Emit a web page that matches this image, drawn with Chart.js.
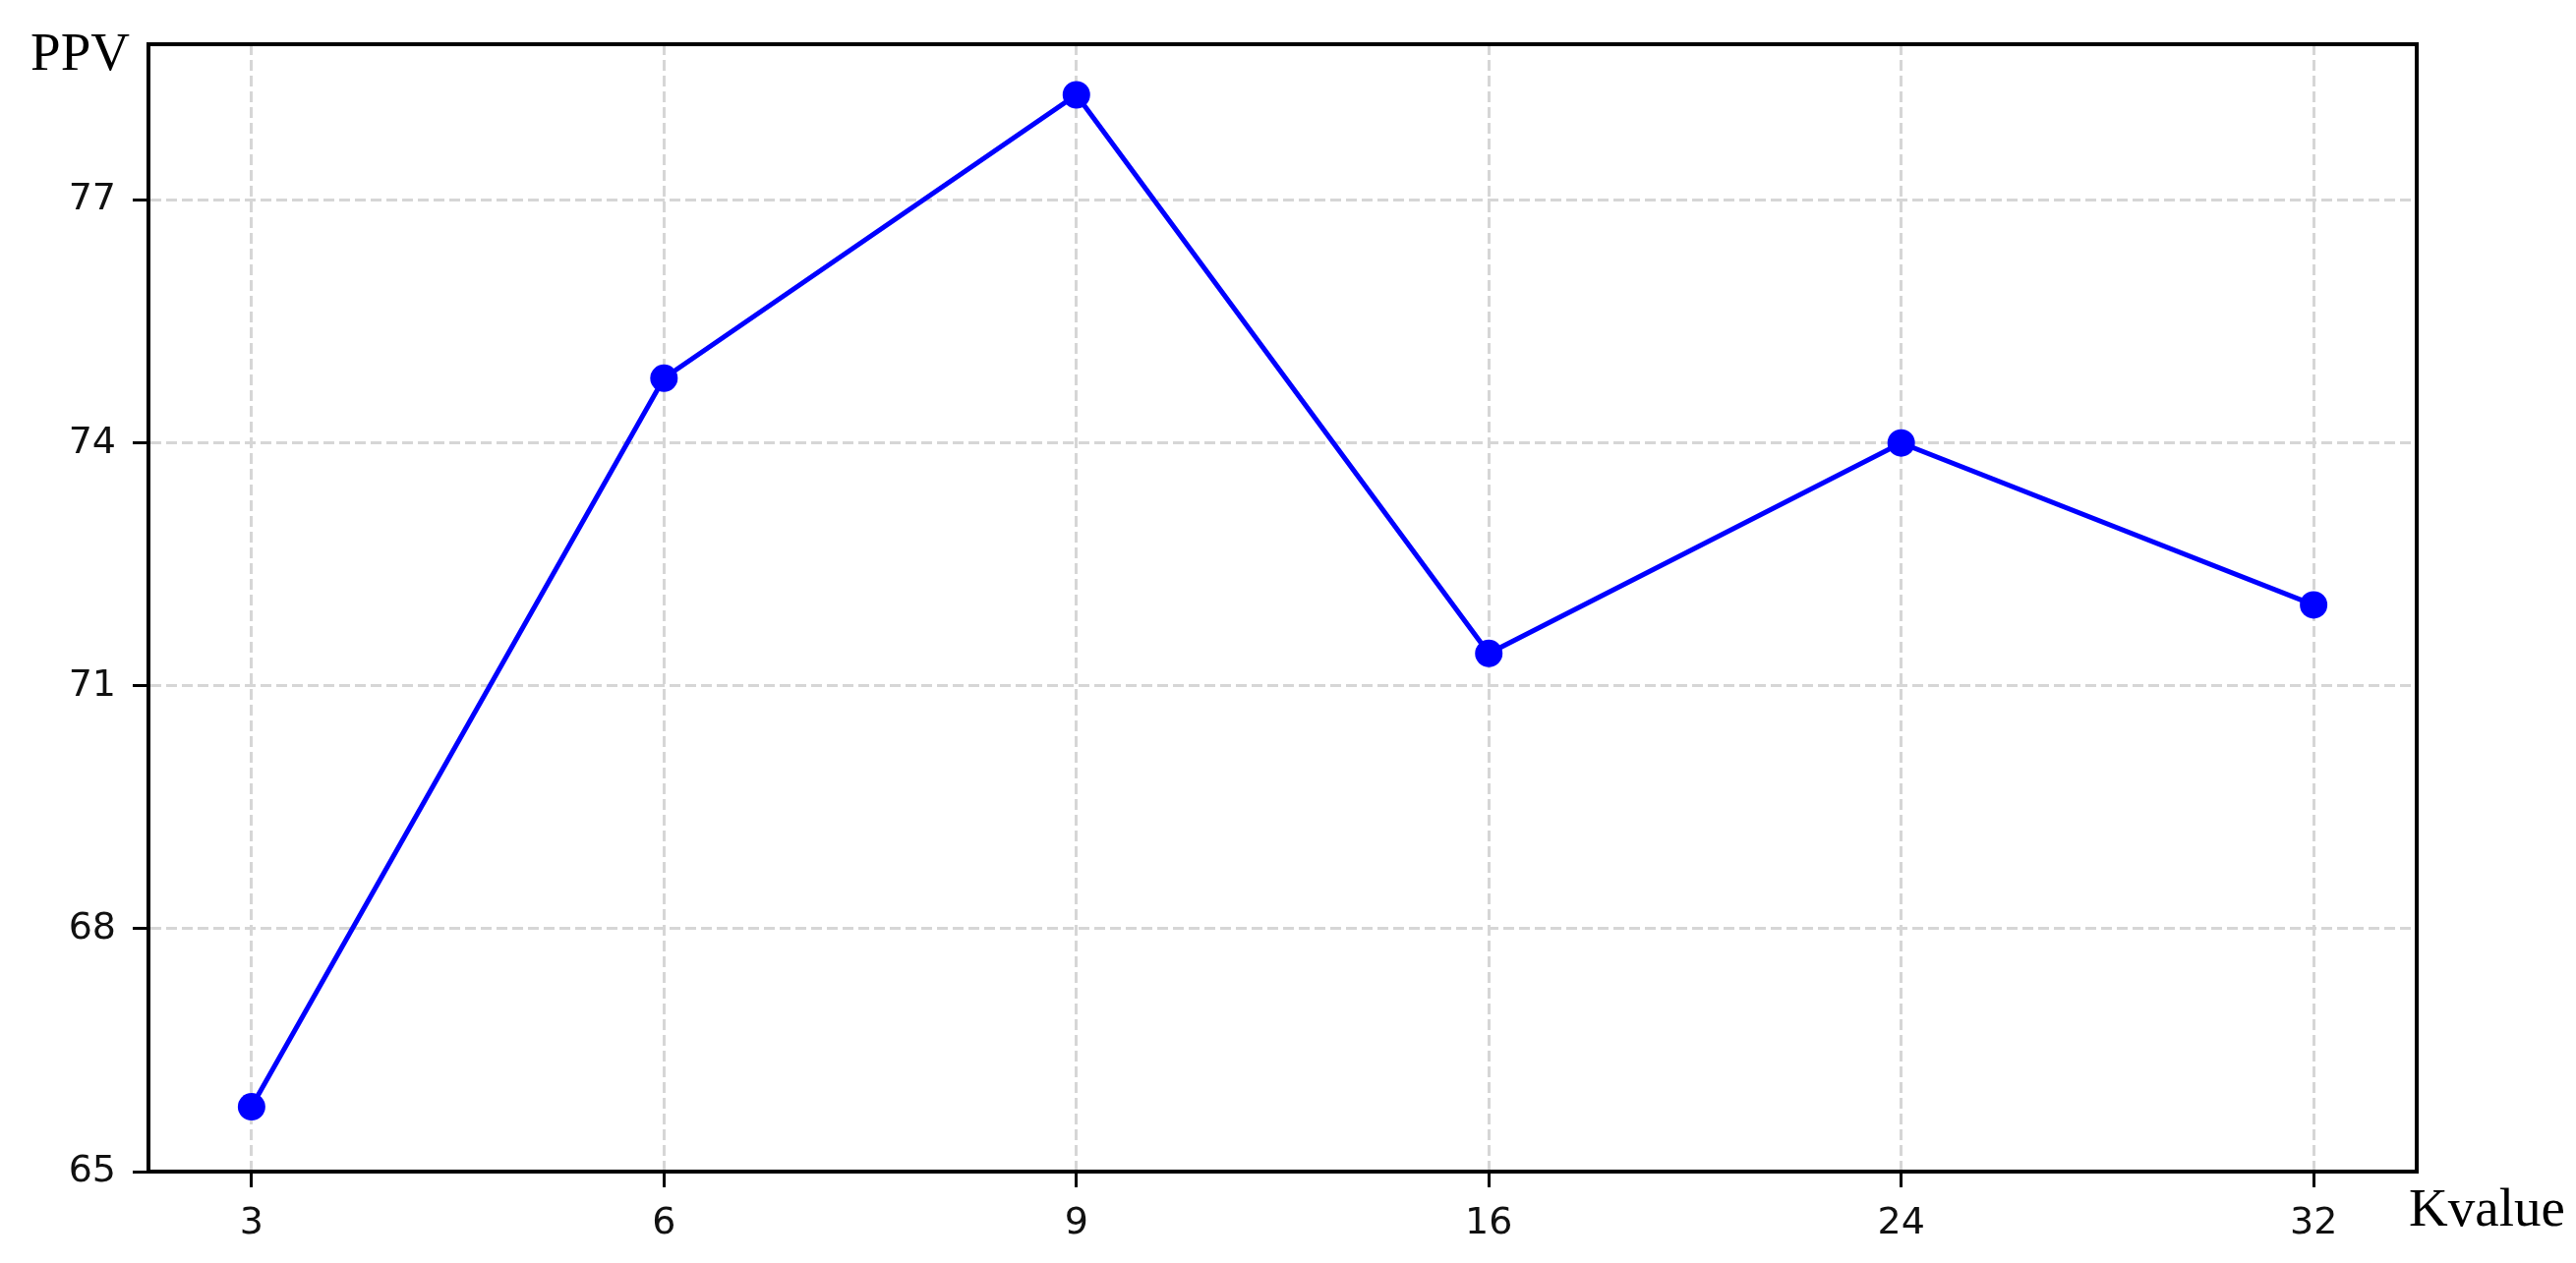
<!DOCTYPE html>
<html>
<head>
<meta charset="utf-8">
<script src="https://cdn.jsdelivr.net/npm/chart.js@4.4.1/dist/chart.umd.min.js"></script>
<style>
  html, body { margin: 0; padding: 0; background: #fff; }
  #wrap { width: 2620px; height: 1285px; }
</style>
</head>
<body>
<div id="wrap"><canvas id="chart" width="2620" height="1285"></canvas></div>
<script>
  const kValues = ['3', '6', '9', '16', '24', '32'];
  const ppv = [65.8, 74.8, 78.3, 71.4, 74.0, 72.0];
  const yTicks = [65, 68, 71, 74, 77];

  const tickFont = { family: "'DejaVu Sans', sans-serif", size: 38 };
  const titleFont = "55px 'Liberation Serif', 'Times New Roman', serif";

  // frame on all four sides + the two axis names placed like the original
  const framePlugin = {
    id: 'frame',
    afterDraw(chart) {
      const { ctx, chartArea: a } = chart;
      ctx.save();
      ctx.strokeStyle = '#000';
      ctx.lineWidth = 4;
      ctx.strokeRect(a.left, a.top, a.right - a.left, a.bottom - a.top);
      ctx.fillStyle = '#000';
      ctx.font = titleFont;
      ctx.textBaseline = 'alphabetic';
      ctx.textAlign = 'right';
      ctx.fillText('PPV', a.left - 19, a.top + 26);
      ctx.textAlign = 'left';
      ctx.fillText('Kvalue', a.right - 8, a.bottom + 55);
      ctx.restore();
    }
  };

  new Chart(document.getElementById('chart'), {
    type: 'line',
    data: {
      datasets: [{
        data: ppv.map((v, i) => ({ x: i, y: v })),
        borderColor: '#0000ff',
        backgroundColor: '#0000ff',
        borderWidth: 5,
        pointRadius: 14,
        pointHoverRadius: 14,
        pointBorderWidth: 0,
        tension: 0,
      }],
    },
    options: {
      responsive: false,
      animation: false,
      devicePixelRatio: 1,
      layout: { padding: { left: 0, top: 45, right: 162, bottom: 0 } },
      plugins: { legend: { display: false }, tooltip: { enabled: false } },
      scales: {
        x: {
          type: 'linear',
          min: -0.25,
          max: 5.25,
          afterBuildTicks: axis => { axis.ticks = kValues.map((_, i) => ({ value: i })); },
          afterFit: scale => { scale.height = 93; },
          ticks: {
            callback: v => kValues[v],
            font: tickFont,
            color: '#111',
            padding: 14,
            maxRotation: 0,
          },
          grid: {
            color: '#d6d6d6',
            lineWidth: 3,
            tickColor: '#000',
            tickWidth: 3,
            tickLength: 16,
          },
          border: { color: '#000', width: 4, dash: [11, 5] },
        },
        y: {
          min: 65,
          max: 78.925,
          afterBuildTicks: axis => { axis.ticks = yTicks.map(v => ({ value: v })); },
          afterFit: scale => { scale.width = 151; },
          ticks: {
            font: tickFont,
            color: '#111',
            padding: 17,
          },
          grid: {
            color: '#d6d6d6',
            lineWidth: 3,
            tickColor: '#000',
            tickWidth: 3,
            tickLength: 16,
          },
          border: { color: '#000', width: 4, dash: [11, 5] },
        },
      },
    },
    plugins: [framePlugin],
  });
</script>
</body>
</html>
